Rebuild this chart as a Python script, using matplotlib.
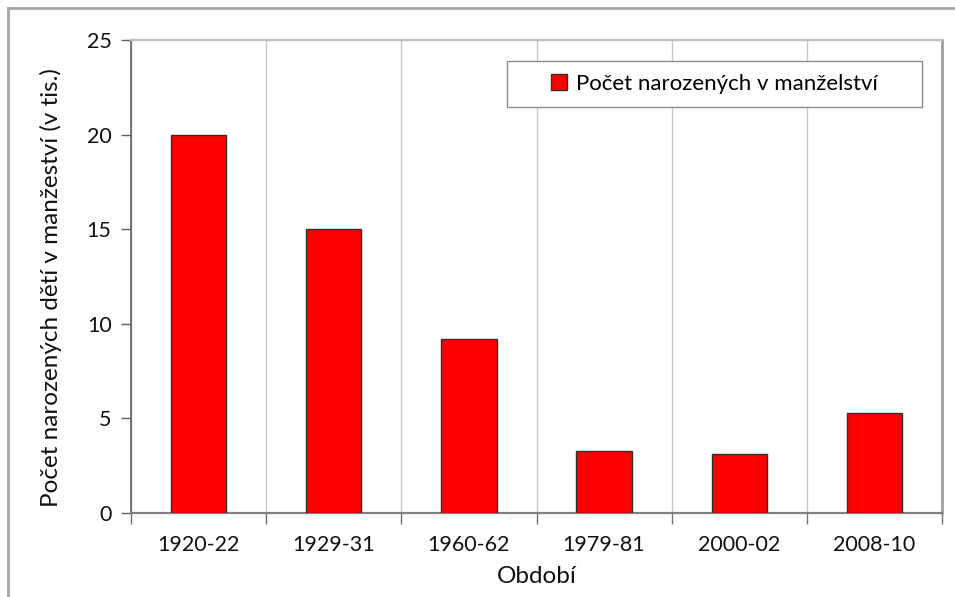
import matplotlib
matplotlib.use("Agg")
import matplotlib.pyplot as plt
from matplotlib.patches import Rectangle
from matplotlib.lines import Line2D
import numpy as np

periods = ['1920-22', '1929-31', '1960-62', '1979-81', '2000-02', '2008-10']
births = [20.0, 15.0, 9.2, 3.3, 3.1, 5.3]
yticks = [0, 5, 10, 15, 20, 25]

plt.rcParams['font.family'] = ['Lato', 'DejaVu Sans']

fig = plt.figure(figsize=(9.55, 5.97), dpi=100)
ax = fig.add_axes([131/955, 84/597, 811/955, 473/597])

x = np.arange(len(periods))
ax.bar(x, births, width=0.41, color='#ff0000', edgecolor='#303030', linewidth=1.0, zorder=3)

ax.set_xlim(-0.5, len(periods) - 0.5)
ax.set_ylim(0, 25)
ax.set_yticks(yticks)
ax.tick_params(axis='y', direction='out', length=7, width=1, color='#606060', labelsize=15.5, pad=7, labelcolor='#111111')

# boundaries carry ticks + gridlines, labels sit at centres
ax.set_xticks(np.arange(-0.5, len(periods)), minor=False)
ax.set_xticklabels([])
ax.set_xticks(x, minor=True)
ax.set_xticklabels(periods, minor=True)
ax.tick_params(axis='x', which='major', direction='out', length=8, width=1, color='#707070')
ax.tick_params(axis='x', which='minor', length=0, labelsize=15.5, pad=16, labelcolor='#111111')
ax.grid(axis='x', which='major', color='#c8c8c8', linewidth=1, zorder=0)
ax.set_axisbelow(True)

ax.spines['left'].set_color('#606060')
ax.spines['left'].set_linewidth(1.2)
ax.spines['bottom'].set_color('#808080')
ax.spines['bottom'].set_linewidth(1.6)
ax.spines['top'].set_color('#bdbdbd')
ax.spines['top'].set_linewidth(1.6)
ax.spines['right'].set_color('#a0a0a0')
ax.spines['right'].set_linewidth(2.0)

ax.set_ylabel('Počet narozených dětí v manžeství (v tis.)', fontsize=17.5, color='#111111')
ax.yaxis.set_label_coords(-0.085, 0.476)
ax.set_xlabel('Období', fontsize=17.5, labelpad=8, color='#111111')

# legend box
lx0, lx1 = (507 - 131) / 811, (922 - 131) / 811
ly0, ly1 = (513 - 107) / 473, (513 - 61) / 473
ax.add_patch(Rectangle((lx0, ly0), lx1 - lx0, ly1 - ly0, transform=ax.transAxes,
                       facecolor='white', edgecolor='#8c8c8c', linewidth=1.0, zorder=4))
leg = ax.legend([Rectangle((0, 0), 1, 1, facecolor='#ff0000', edgecolor='#303030', linewidth=1.0)],
                ['Počet narozených v manželství'], loc='center',
                bbox_to_anchor=((lx0 + lx1) / 2, (ly0 + ly1) / 2), frameon=False,
                fontsize=16, handlelength=0.7, handleheight=0.7, handletextpad=0.4)
leg.set_zorder(5)

# outer chart border
fig.add_artist(Line2D([8/955, 8/955], [0, 1 - 8/597], transform=fig.transFigure, color='#a6a6a6', linewidth=2))
fig.add_artist(Line2D([8/955, 1], [1 - 8/597, 1 - 8/597], transform=fig.transFigure, color='#a6a6a6', linewidth=2))

fig.savefig('out.png', dpi=100)
